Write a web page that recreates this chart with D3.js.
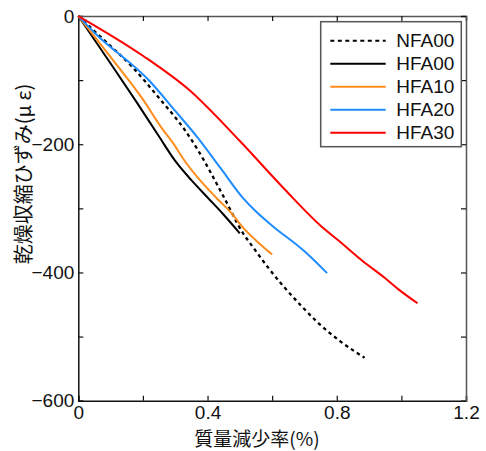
<!DOCTYPE html>
<html>
<head>
<meta charset="utf-8">
<script src="https://cdn.jsdelivr.net/npm/d3@7"></script>
<style>
  body { margin: 0; background: #fff; }
  text { font-family: "Liberation Sans", Arial, sans-serif; }
</style>
</head>
<body>
<div id="chart"></div>
<script>
// series data (mass loss %, drying shrinkage strain)
var seriesNames = ["NFA00", "HFA00", "HFA10", "HFA20", "HFA30"];
var seriesColors = ["#000000", "#000000", "#ff8c1a", "#1e8cff", "#ff0000"];
var nfa00X = [0, 0.07, 0.17, 0.25, 0.33, 0.37, 0.45, 0.51, 0.54, 0.59, 0.634, 0.69, 0.737, 0.81, 0.886];
var nfa00Y = [0, -33, -81, -128, -178, -209, -282, -339, -360, -394, -421, -452, -476, -507, -533];
var hfa00X = [0, 0.1, 0.18, 0.25, 0.30, 0.35, 0.40, 0.45, 0.50];
var hfa00Y = [0, -74, -134, -188, -226, -256, -283, -310, -339];
var hfa10X = [0, 0.1, 0.2, 0.26, 0.29, 0.335, 0.38, 0.43, 0.47, 0.51, 0.55, 0.60];
var hfa10Y = [0, -64, -130, -176, -196, -230, -258, -285, -305, -330, -350, -372];
var hfa20X = [0, 0.05, 0.22, 0.30, 0.37, 0.44, 0.51, 0.55, 0.60, 0.70, 0.77];
var hfa20Y = [0, -26, -101, -148, -190, -237, -284, -305, -327, -367, -401];
var hfa30X = [0, 0.2, 0.34, 0.5, 0.64, 0.75, 0.81, 0.88, 0.95, 0.99, 1.05];
var hfa30Y = [0, -62, -114, -195, -271, -327, -352, -382, -409, -426, -448];
var xMajor = [0, 0.4, 0.8, 1.2];
var xMinor = [0.2, 0.6, 1.0];
var yMajor = [0, -200, -400, -600];
var yMinor = [-100, -300, -500];

(function () {
  var width = 486, height = 451;
  var pLeft = 78.3, pRight = 466, pTop = 16, pBottom = 400.7;

  var svg = d3.select("#chart").append("svg")
    .attr("width", width)
    .attr("height", height);

  var x = d3.scaleLinear().domain([0, 1.2]).range([pLeft, pRight]);
  var y = d3.scaleLinear().domain([0, -600]).range([pTop, pBottom]);

  function fmt(d) {
    return d < 0 ? "\u2212" + Math.abs(d) : String(d);
  }

  var xTicks = xMajor.concat(xMinor);
  var yTicks = yMajor.concat(yMinor);

  // bottom axis
  var gx = svg.append("g")
    .attr("transform", "translate(0," + pBottom + ")")
    .call(d3.axisBottom(x).tickValues(xTicks).tickSize(-5).tickPadding(5)
      .tickFormat(function (d) { return xMajor.indexOf(d) >= 0 ? fmt(d) : ""; }));

  // left axis
  var gy = svg.append("g")
    .attr("transform", "translate(" + pLeft + ",0)")
    .call(d3.axisLeft(y).tickValues(yTicks).tickSize(-5).tickPadding(4)
      .tickFormat(function (d) { return yMajor.indexOf(d) >= 0 ? fmt(d) : ""; }));

  // top and right axes (no labels)
  var gt = svg.append("g")
    .attr("transform", "translate(0," + pTop + ")")
    .call(d3.axisTop(x).tickValues(xTicks).tickSize(-5).tickFormat(""));
  var gr = svg.append("g")
    .attr("transform", "translate(" + pRight + ",0)")
    .call(d3.axisRight(y).tickValues(yTicks).tickSize(-5).tickFormat(""));

  [gx, gy].forEach(function (g) {
    g.select(".domain").attr("stroke", "#111").attr("stroke-width", 1.5);
    g.selectAll(".tick line").attr("stroke", "#111").attr("stroke-width", 1.2);
    g.selectAll("text").attr("font-size", 19).attr("fill", "#111")
      .style("font-family", "'Liberation Sans', Arial, sans-serif");
  });
  [gt, gr].forEach(function (g) {
    g.select(".domain").attr("stroke", "#555").attr("stroke-width", 1.5);
    g.selectAll(".tick line").attr("stroke", "#111").attr("stroke-width", 1.2);
  });

  // lines
  var line = d3.line()
    .curve(d3.curveMonotoneX)
    .x(function (d) { return x(d[0]); })
    .y(function (d) { return y(d[1]); });

  var allX = [nfa00X, hfa00X, hfa10X, hfa20X, hfa30X];
  var allY = [nfa00Y, hfa00Y, hfa10Y, hfa20Y, hfa30Y];

  seriesNames.forEach(function (name, i) {
    var pts = d3.zip(allX[i], allY[i]);
    svg.append("path")
      .datum(pts)
      .attr("fill", "none")
      .attr("stroke", seriesColors[i])
      .attr("stroke-width", i === 0 ? 2.3 : 2)
      .attr("stroke-linejoin", "round")
      .attr("stroke-dasharray", i === 0 ? "3.5,3.5" : null)
      .attr("d", line);
  });

  // legend
  var legend = svg.append("g");
  legend.append("rect")
    .attr("x", 320.7).attr("y", 21.7)
    .attr("width", 140.6).attr("height", 125)
    .attr("fill", "#fff")
    .attr("stroke", "#555")
    .attr("stroke-width", 1.5);

  seriesNames.forEach(function (name, i) {
    var ly = 40.7 + i * 23;
    legend.append("line")
      .attr("x1", 330.3).attr("x2", 385.7)
      .attr("y1", ly).attr("y2", ly)
      .attr("stroke", seriesColors[i])
      .attr("stroke-width", 2)
      .attr("stroke-dasharray", i === 0 ? "4,3.5" : null);
    legend.append("text")
      .attr("x", 396.3).attr("y", ly)
      .attr("dy", "0.35em")
      .attr("font-size", 19)
      .attr("fill", "#111")
      .text(name);
  });

  // axis titles
  svg.append("text")
    .attr("x", 257).attr("y", 446)
    .attr("text-anchor", "middle")
    .attr("font-size", 19)
    .style("font-family", "'Noto Sans CJK JP', sans-serif")
    .attr("fill", "#111")
    .text("質量減少率(%)");

  svg.append("text")
    .attr("transform", "translate(31,174) rotate(-90)")
    .attr("text-anchor", "middle")
    .attr("font-size", 20)
    .style("font-family", "'Noto Sans CJK JP', sans-serif")
    .attr("fill", "#111")
    .text("乾燥収縮ひずみ(μ ε)");
})();
</script>
</body>
</html>
